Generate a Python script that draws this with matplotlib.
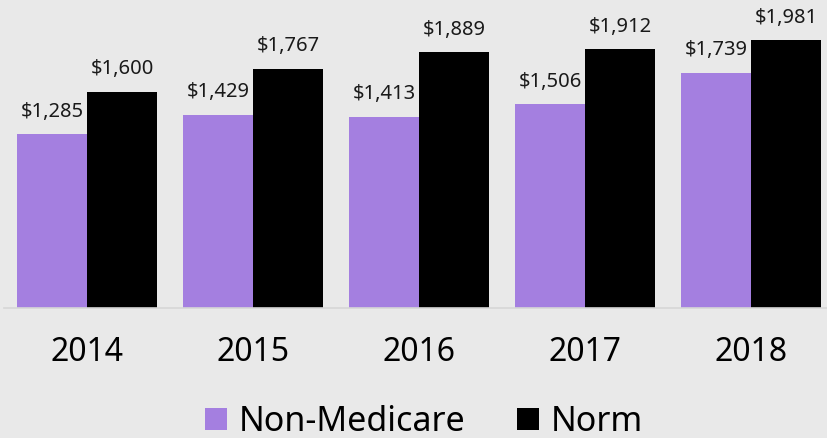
import matplotlib.pyplot as plt
import numpy as np

years = ['2014', '2015', '2016', '2017', '2018']
non_medicare = [1285, 1429, 1413, 1506, 1739]
norm = [1600, 1767, 1889, 1912, 1981]

plt.rcParams['font.family'] = ['Noto Sans', 'DejaVu Sans']

bg = '#e9e9e9'
purple = '#a47fe0'

fig = plt.figure(figsize=(8.27, 4.38), dpi=100, facecolor=bg)
ax = fig.add_axes([4/827, 1 - 308/438, 823/827, 308/438], facecolor=bg)

x = np.arange(len(years))
w = 70/166
b1 = ax.bar(x - w/2, non_medicare, w, color=purple, label='Non-Medicare')
b2 = ax.bar(x + w/2, norm, w, color='black', label='Norm')

for bars, vals in [(b1, non_medicare), (b2, norm)]:
    for bar, v in zip(bars, vals):
        ax.annotate(f'${v:,}', (bar.get_x() + bar.get_width()/2, v),
                    xytext=(0, 9), textcoords='offset points',
                    ha='center', va='bottom', fontsize=14.5, color='#1a1a1a')

ax.set_xlim(-0.5, -0.5 + 823/166)
ax.set_ylim(0, 1981 * 308/268)
ax.set_xticks(x)
ax.set_xticklabels(years, fontsize=23)
ax.tick_params(axis='x', length=0, pad=20)
ax.set_yticks([])
for s in ['top', 'right', 'left']:
    ax.spines[s].set_visible(False)
ax.spines['bottom'].set_color('#d6d6d6')
ax.spines['bottom'].set_linewidth(1.2)

fig.legend(loc='center', bbox_to_anchor=(424/827, 1 - 422/438), ncol=2,
           frameon=False, fontsize=24.5, handlelength=0.65, handleheight=0.65,
           handletextpad=0.35, columnspacing=1.5)

fig.savefig('out.png', dpi=100, facecolor=bg)
